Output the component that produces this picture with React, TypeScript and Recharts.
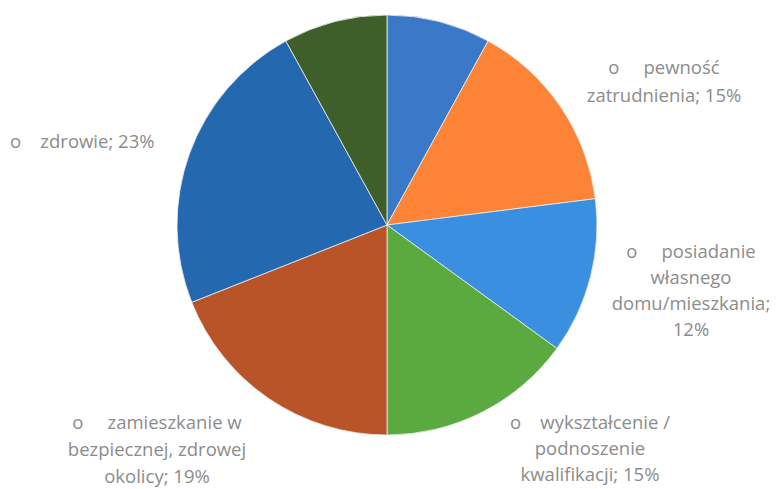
import { PieChart, Pie, Cell } from 'recharts'

// values, clockwise from 12 o'clock
const categories = [
  'inne (1)',
  'pewność zatrudnienia',
  'posiadanie własnego domu/mieszkania',
  'wykształcenie / podnoszenie kwalifikacji',
  'zamieszkanie w bezpiecznej, zdrowej okolicy',
  'zdrowie',
  'inne (2)',
]
const values = [8, 15, 12, 15, 19, 23, 8]
const colors = ['#3a78c8', '#fd8436', '#3a8fe0', '#5aaa40', '#b85428', '#2468b0', '#3f5f2a']

// label text as it appears (bullet "o" included), one entry per slice
const labelLines: string[][] = [
  [],
  ['o     pewność', 'zatrudnienia; 15%'],
  ['o     posiadanie', 'własnego', 'domu/mieszkania;', '12%'],
  ['o    wykształcenie /', 'podnoszenie', 'kwalifikacji; 15%'],
  ['o     zamieszkanie w', 'bezpiecznej, zdrowej', 'okolicy; 19%'],
  ['o    zdrowie; 23%'],
  [],
]

// where each label block sits (x, first baseline, anchor, line height)
const labelLayout = [
  null,
  { x: 664, y: 74, anchor: 'middle', lh: 28 },
  { x: 691, y: 258, anchor: 'middle', lh: 26 },
  { x: 590, y: 429, anchor: 'middle', lh: 26 },
  { x: 157, y: 429, anchor: 'middle', lh: 27 },
  { x: 10, y: 148, anchor: 'start', lh: 26 },
  null,
]

const data = categories.map((name, i) => ({ name, value: values[i] }))

function renderLabel(props: any) {
  const i = props.index
  const layout = labelLayout[i]
  if (!layout) return null
  return (
    <text
      key={`lbl-${i}`}
      textAnchor={layout.anchor}
      fill="#8c8c8c"
      fontSize={18.5}
      fontFamily="'Open Sans', 'Noto Sans', sans-serif"
      style={{ whiteSpace: 'pre' }}
    >
      {labelLines[i].map((line, j) => (
        <tspan key={j} x={layout.x} y={layout.y + j * layout.lh}>
          {line}
        </tspan>
      ))}
    </text>
  )
}

export default function App() {
  return (
    <div style={{ position: 'absolute', left: 0, top: 0, width: 784, height: 489, background: '#ffffff' }}>
      <PieChart width={784} height={489} margin={{ top: 0, right: 0, bottom: 0, left: 0 }}>
        <Pie
          data={data}
          dataKey="value"
          nameKey="name"
          cx={387}
          cy={225}
          outerRadius={210}
          startAngle={90}
          endAngle={-270}
          stroke="#eeeeee"
          strokeWidth={0.8}
          label={renderLabel}
          labelLine={false}
          isAnimationActive={false}
        >
          {data.map((d, i) => (
            <Cell key={d.name} fill={colors[i]} />
          ))}
        </Pie>
      </PieChart>
    </div>
  )
}
